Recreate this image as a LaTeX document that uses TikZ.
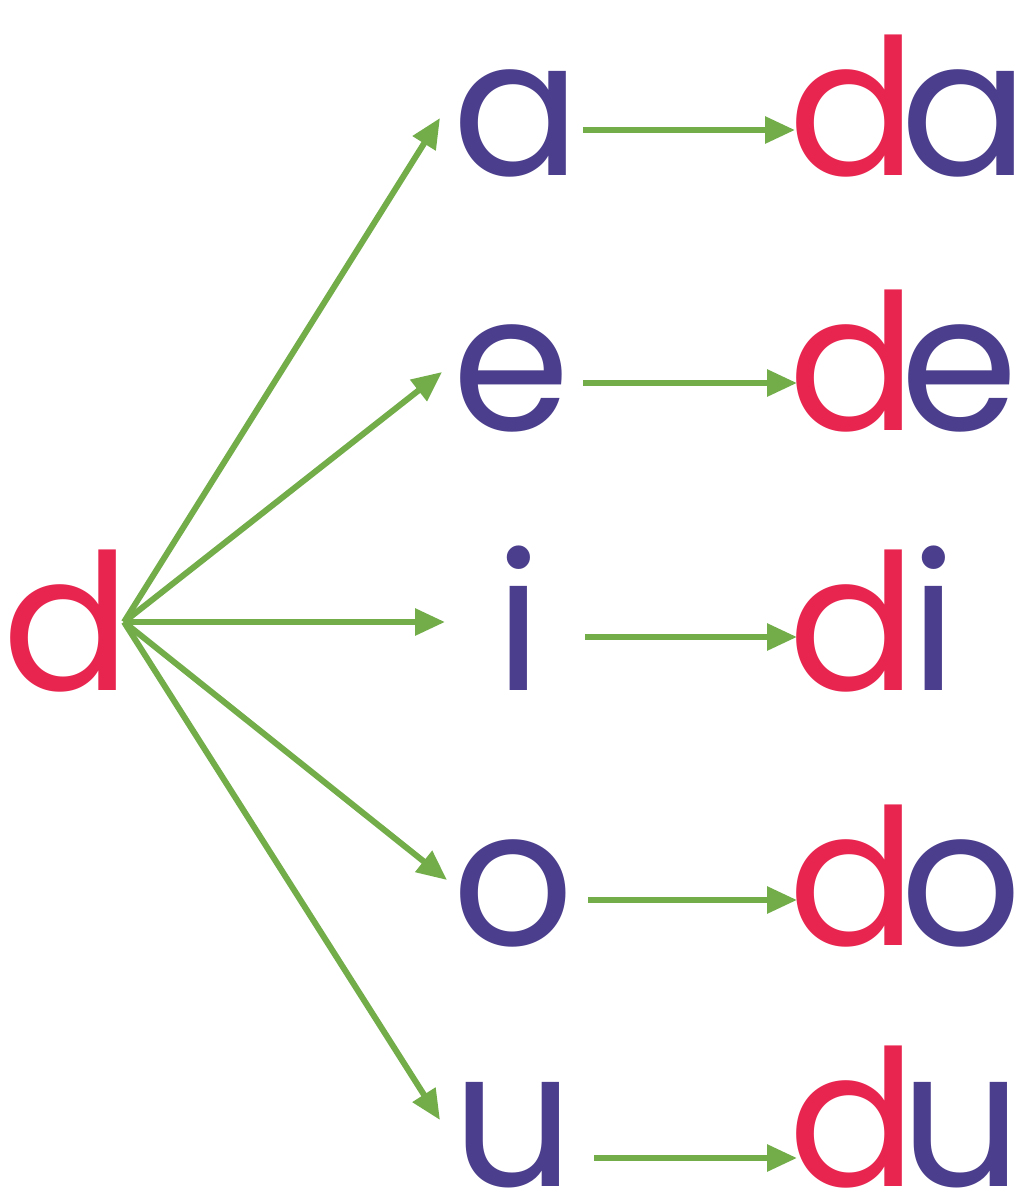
\documentclass[tikz,border=0pt]{standalone}
\usepackage{fontspec}
\setmainfont{Poppins}
\usepackage{xcolor}
\usetikzlibrary{arrows.meta,positioning}
\definecolor{dred}{HTML}{E8254F}
\definecolor{vpurple}{HTML}{4B3E8C}
\definecolor{agreen}{HTML}{72AD4A}

\begin{document}
\begin{tikzpicture}[x=1pt,y=-1pt,
letter/.style={inner sep=0pt,anchor=base west,font=\fontsize{190}{200}\selectfont},
cons/.style={letter,text=dred},
vowel/.style={letter,text=vpurple},
arrow/.style={-{Triangle[length=30pt,width=26pt]},line width=6pt,draw=agreen}
]
\useasboundingbox (0,0) rectangle (1020,1203);
% left consonant
\node[cons] (d) at (2,690) {d};
\coordinate (hub) at (124,622);
% vowels
\node[vowel] (a) at (452,175) {a};
\node[vowel] (e) at (452,430) {e};
\node[vowel] (i) at (495,690) {i};
\node[vowel] (o) at (452,945) {o};
\node[vowel] (u) at (452,1186) {u};
% syllables
\node[letter] (da) at (788,175) {\textcolor{dred}{d}\kern-16pt\textcolor{vpurple}{a}};
\node[letter] (de) at (788,430) {\textcolor{dred}{d}\kern-16pt\textcolor{vpurple}{e}};
\node[letter] (di) at (788,690) {\textcolor{dred}{d}\kern-6pt\textcolor{vpurple}{i}};
\node[letter] (do) at (788,945) {\textcolor{dred}{d}\kern-16pt\textcolor{vpurple}{o}};
\node[letter] (du) at (788,1186) {\textcolor{dred}{d}\kern-16pt\textcolor{vpurple}{u}};
\draw[arrow] (hub) -- ([shift={(-12,-57)}]a.base west);
\draw[arrow] (hub) -- ([shift={(-10,-58)}]e.base west);
\draw[arrow] (hub) -- ([shift={(-50,-68)}]i.base west);
\draw[arrow] (hub) -- ([shift={(-5,-65)}]o.base west);
\draw[arrow] (hub) -- ([shift={(-12,-66)}]u.base west);
\draw[arrow] ([shift={(2,-45)}]a.base east) -- ([shift={(7,-45)}]da.base west);
\draw[arrow] ([shift={(13,-47)}]e.base east) -- ([shift={(9,-47)}]de.base west);
\draw[arrow] ([shift={(43,-53)}]i.base east) -- ([shift={(9,-53)}]di.base west);
\draw[arrow] ([shift={(14,-45)}]o.base east) -- ([shift={(9,-45)}]do.base west);
\draw[arrow] ([shift={(20,-28)}]u.base east) -- ([shift={(9,-28)}]du.base west);
\end{tikzpicture}
\end{document}
